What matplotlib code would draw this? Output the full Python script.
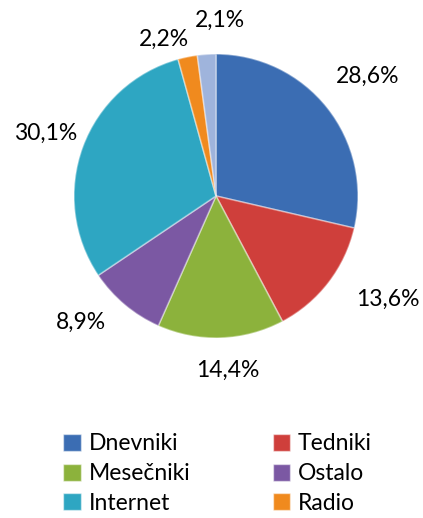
import matplotlib
matplotlib.use("Agg")
import matplotlib.pyplot as plt
from matplotlib.patches import Patch
import numpy as np

categories = ["Dnevniki", "Tedniki", "Mesečniki", "Ostalo", "Internet", "Radio", ""]
values = [28.6, 13.6, 14.4, 8.9, 30.1, 2.2, 2.1]
colors = ["#3B6DB3", "#CF3F3B", "#8CB23C", "#7B58A3", "#2EA6C2", "#F08A1E", "#9FB4DC"]
label_dist = [1.36, 1.41, 1.23, 1.30, 1.28, 1.16, 1.24]
label_shift = [0, 6.5, 2, -7, 0, 7, -5]

plt.rcParams['font.family'] = ['Lato', 'DejaVu Sans']

W, H = 423, 518
fig = plt.figure(figsize=(W / 100, H / 100), dpi=100)
cx, cy, r = 216, 196, 142
ax = fig.add_axes([(cx - r) / W, (H - cy - r) / H, 2 * r / W, 2 * r / H])

wedges, _ = ax.pie(values, colors=colors, startangle=90, counterclock=False, radius=1,
                   wedgeprops=dict(edgecolor=(1, 1, 1, 0.4), linewidth=1.2))
ax.set_xlim(-1, 1)
ax.set_ylim(-1, 1)
ax.set_aspect("equal")
ax.axis("off")

for w, v, d, s in zip(wedges, values, label_dist, label_shift):
    ang = np.deg2rad((w.theta1 + w.theta2) / 2 + s)
    ax.text(d * np.cos(ang), d * np.sin(ang), f"{v:.1f}%".replace(".", ","),
            ha="center", va="center", fontsize=16.5, color="black", clip_on=False)

order = [0, 2, 4, 1, 3, 5]
handles = [Patch(facecolor=colors[i], edgecolor=(1, 1, 1, 0.5), label=categories[i]) for i in order]
fig.legend(handles=handles, ncol=2, loc="upper left", bbox_to_anchor=(52 / W, 1 - 422 / H),
           frameon=False, fontsize=16.5, handlelength=0.75, handleheight=0.75,
           handletextpad=0.35, columnspacing=3.6, labelspacing=0.38, borderpad=0)

fig.savefig("out.png", dpi=100)
